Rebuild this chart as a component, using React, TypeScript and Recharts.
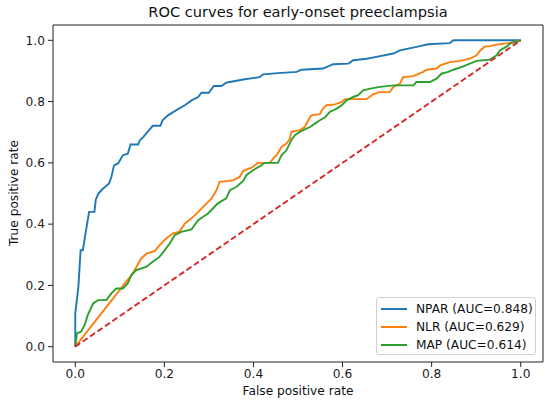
import { LineChart, Line, XAxis, YAxis, ReferenceArea } from "recharts";

const npar_fpr = [0, 0, 0.007, 0.012, 0.017, 0.023, 0.031, 0.043, 0.046, 0.052, 0.06, 0.076, 0.081, 0.087, 0.096, 0.107, 0.118, 0.124, 0.141, 0.145, 0.153, 0.167, 0.174, 0.191, 0.196, 0.208, 0.227, 0.246, 0.261, 0.276, 0.283, 0.3, 0.311, 0.328, 0.339, 0.347, 0.377, 0.414, 0.422, 0.455, 0.497, 0.508, 0.556, 0.579, 0.613, 0.624, 0.654, 0.676, 0.714, 0.729, 0.774, 0.792, 0.841, 0.849, 1];
const npar_tpr = [0, 0.109, 0.196, 0.315, 0.315, 0.37, 0.44, 0.44, 0.48, 0.5, 0.513, 0.533, 0.554, 0.592, 0.598, 0.625, 0.63, 0.66, 0.66, 0.674, 0.685, 0.709, 0.721, 0.721, 0.739, 0.755, 0.772, 0.788, 0.804, 0.815, 0.829, 0.829, 0.851, 0.851, 0.862, 0.864, 0.872, 0.88, 0.889, 0.893, 0.897, 0.904, 0.908, 0.922, 0.924, 0.935, 0.94, 0.946, 0.957, 0.967, 0.981, 0.987, 0.991, 1, 1];

const nlr_fpr = [0, 0.129, 0.148, 0.16, 0.178, 0.189, 0.204, 0.219, 0.234, 0.246, 0.261, 0.276, 0.291, 0.306, 0.317, 0.324, 0.354, 0.369, 0.377, 0.396, 0.41, 0.437, 0.444, 0.452, 0.463, 0.474, 0.482, 0.485, 0.504, 0.515, 0.523, 0.53, 0.549, 0.556, 0.564, 0.583, 0.598, 0.605, 0.654, 0.669, 0.682, 0.706, 0.714, 0.729, 0.736, 0.759, 0.781, 0.789, 0.811, 0.819, 0.841, 0.864, 0.886, 0.901, 0.909, 0.92, 0.931, 0.946, 0.972, 1];
const nlr_tpr = [0, 0.239, 0.288, 0.304, 0.312, 0.331, 0.353, 0.37, 0.375, 0.402, 0.419, 0.44, 0.462, 0.484, 0.511, 0.538, 0.543, 0.554, 0.574, 0.584, 0.6, 0.6, 0.614, 0.625, 0.652, 0.663, 0.679, 0.701, 0.707, 0.717, 0.739, 0.755, 0.759, 0.777, 0.788, 0.791, 0.799, 0.808, 0.808, 0.824, 0.831, 0.831, 0.848, 0.859, 0.88, 0.883, 0.897, 0.904, 0.908, 0.918, 0.929, 0.933, 0.94, 0.951, 0.967, 0.98, 0.981, 0.986, 0.991, 1];

const map_fpr = [0, 0.004, 0.013, 0.021, 0.028, 0.04, 0.051, 0.07, 0.081, 0.092, 0.107, 0.118, 0.126, 0.137, 0.16, 0.174, 0.189, 0.201, 0.212, 0.223, 0.238, 0.261, 0.268, 0.276, 0.287, 0.298, 0.309, 0.32, 0.339, 0.347, 0.362, 0.377, 0.384, 0.399, 0.418, 0.425, 0.455, 0.463, 0.474, 0.485, 0.493, 0.504, 0.515, 0.527, 0.538, 0.549, 0.56, 0.571, 0.587, 0.598, 0.609, 0.624, 0.635, 0.646, 0.665, 0.684, 0.714, 0.759, 0.766, 0.796, 0.811, 0.822, 0.837, 0.849, 0.871, 0.886, 0.901, 0.931, 0.946, 0.953, 0.969, 0.976, 1];
const map_tpr = [0, 0.044, 0.049, 0.071, 0.103, 0.141, 0.152, 0.152, 0.174, 0.19, 0.19, 0.207, 0.234, 0.25, 0.261, 0.277, 0.293, 0.315, 0.337, 0.364, 0.375, 0.383, 0.397, 0.413, 0.424, 0.435, 0.451, 0.468, 0.484, 0.511, 0.522, 0.541, 0.56, 0.576, 0.592, 0.6, 0.6, 0.625, 0.641, 0.674, 0.69, 0.701, 0.709, 0.717, 0.728, 0.739, 0.748, 0.766, 0.777, 0.788, 0.804, 0.815, 0.821, 0.837, 0.843, 0.848, 0.853, 0.853, 0.864, 0.864, 0.875, 0.891, 0.897, 0.904, 0.915, 0.924, 0.933, 0.937, 0.951, 0.967, 0.98, 0.989, 1];

const chance_fpr = [0, 1];
const chance_tpr = [0, 1];

const ticks = [0, 0.2, 0.4, 0.6, 0.8, 1.0];

const series = [
  { name: "NPAR (AUC=0.848)", color: "#1f77b4", fpr: npar_fpr, tpr: npar_tpr },
  { name: "NLR (AUC=0.629)", color: "#ff7f0e", fpr: nlr_fpr, tpr: nlr_tpr },
  { name: "MAP (AUC=0.614)", color: "#2ca02c", fpr: map_fpr, tpr: map_tpr },
];

const toPoints = (xs: number[], ys: number[]) => xs.map((x, i) => ({ x, y: ys[i] }));

const FONT = "'DejaVu Sans', sans-serif";
const tickStyle = { fill: "#1a1a1a", fontSize: 12.2, fontFamily: FONT };

export default function App() {
  return (
    <div style={{ position: "absolute", left: 0, top: 0, width: 550, height: 404, background: "#fff", fontFamily: FONT }}>
      <LineChart width={550} height={404} margin={{ top: 25, right: 7, bottom: 0, left: 0 }}>
        <XAxis
          type="number"
          dataKey="x"
          domain={[-0.05, 1.05]}
          ticks={ticks}
          tickFormatter={(v: number) => v.toFixed(1)}
          height={42}
          tickSize={5}
          tickMargin={2}
          tick={tickStyle}
          axisLine={false}
          tickLine={{ stroke: "#222" }}
          allowDataOverflow
        />
        <YAxis
          type="number"
          dataKey="y"
          domain={[-0.05, 1.05]}
          ticks={ticks}
          tickFormatter={(v: number) => v.toFixed(1)}
          width={53}
          tickSize={5}
          tickMargin={3}
          tick={tickStyle}
          axisLine={false}
          tickLine={{ stroke: "#222" }}
          allowDataOverflow
        />
        <ReferenceArea x1={-0.05} x2={1.05} y1={-0.05} y2={1.05} fill="none" stroke="#222" strokeWidth={1} />
        {series.map((s) => (
          <Line
            key={s.name}
            data={toPoints(s.fpr, s.tpr)}
            dataKey="y"
            type="linear"
            stroke={s.color}
            strokeWidth={1.9}
            dot={false}
            isAnimationActive={false}
          />
        ))}
        <Line
          data={toPoints(chance_fpr, chance_tpr)}
          dataKey="y"
          type="linear"
          stroke="#d62728"
          strokeWidth={1.9}
          strokeDasharray="6 3"
          dot={false}
          isAnimationActive={false}
        />
      </LineChart>

      <div style={{ position: "absolute", left: 53, width: 490, top: 3, textAlign: "center", fontSize: 14.6, color: "#111", whiteSpace: "nowrap" }}>
        ROC curves for early-onset preeclampsia
      </div>
      <div style={{ position: "absolute", left: 53, width: 490, top: 384, textAlign: "center", fontSize: 12.2, color: "#111" }}>
        False positive rate
      </div>
      <div
        style={{
          position: "absolute",
          left: 14,
          top: 193,
          fontSize: 12.2,
          color: "#111",
          whiteSpace: "nowrap",
          transform: "translate(-50%, -50%) rotate(-90deg)",
        }}
      >
        True positive rate
      </div>

      <div
        style={{
          position: "absolute",
          left: 376,
          top: 297,
          width: 160,
          height: 58,
          border: "1px solid #d0d0d0",
          borderRadius: 3,
          background: "rgba(255,255,255,0.8)",
          boxSizing: "border-box",
        }}
      >
        {series.map((s, i) => (
          <div key={s.name} style={{ position: "absolute", left: 4, top: 3 + i * 18, height: 15, display: "flex", alignItems: "center" }}>
            <div style={{ width: 26, height: 2, background: s.color }} />
            <span style={{ marginLeft: 9, fontSize: 12.2, color: "#111", whiteSpace: "nowrap" }}>{s.name}</span>
          </div>
        ))}
      </div>
    </div>
  );
}
